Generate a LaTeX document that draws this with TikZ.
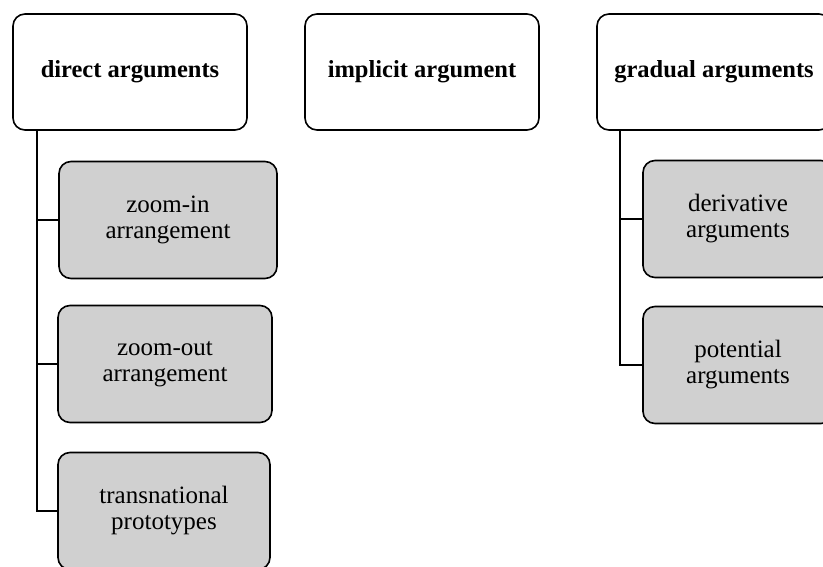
\documentclass[tikz,border=0pt]{standalone}
\usepackage{fontspec}
\setmainfont{Liberation Serif}
\usepackage{xcolor}
\usepackage{tikz}
\usetikzlibrary{positioning}
\definecolor{boxgray}{RGB}{208,208,208}

\begin{document}
\begin{tikzpicture}[x=1pt,y=-1pt,
  topbox/.style={draw,line width=1.6pt,rounded corners=12pt,fill=white,
    minimum width=234pt,minimum height=116pt,align=center,
    font=\fontsize{24.5}{26}\selectfont\bfseries},
  subbox/.style={draw,line width=1.6pt,rounded corners=12pt,fill=boxgray,
    minimum height=117pt,align=center,
    font=\fontsize{25}{26}\selectfont},
  link/.style={line width=1.6pt}]
\useasboundingbox (0,0) rectangle (823,567);
\clip (0,0) rectangle (823,567);
% top row
\node[topbox] (direct) at (130,72) {direct arguments};
\node[topbox] (implicit) at (422,72) {implicit argument};
\node[topbox] (gradual) at (714,72) {gradual arguments};
% left branch
\node[subbox,minimum width=218pt] (zoomin) at (168,220) {zoom-in\\arrangement};
\node[subbox,minimum width=214pt] (zoomout) at (165,364) {zoom-out\\arrangement};
\node[subbox,minimum width=212pt] (transnat) at (164,511) {transnational\\prototypes};
% right branch
\node[subbox,minimum width=190pt] (deriv) at (738,219) {derivative\\arguments};
\node[subbox,minimum width=190pt] (potent) at (738,365) {potential\\arguments};
% connectors
\coordinate (dtrunk) at ([xshift=25pt]direct.south west);
\coordinate (gtrunk) at ([xshift=24pt]gradual.south west);
\draw[link] (dtrunk) |- (zoomin.west);
\draw[link] (dtrunk) |- (zoomout.west);
\draw[link] (dtrunk) |- (transnat.west);
\draw[link] (gtrunk) |- (deriv.west);
\draw[link] (gtrunk) |- (potent.west);
\end{tikzpicture}
\end{document}
